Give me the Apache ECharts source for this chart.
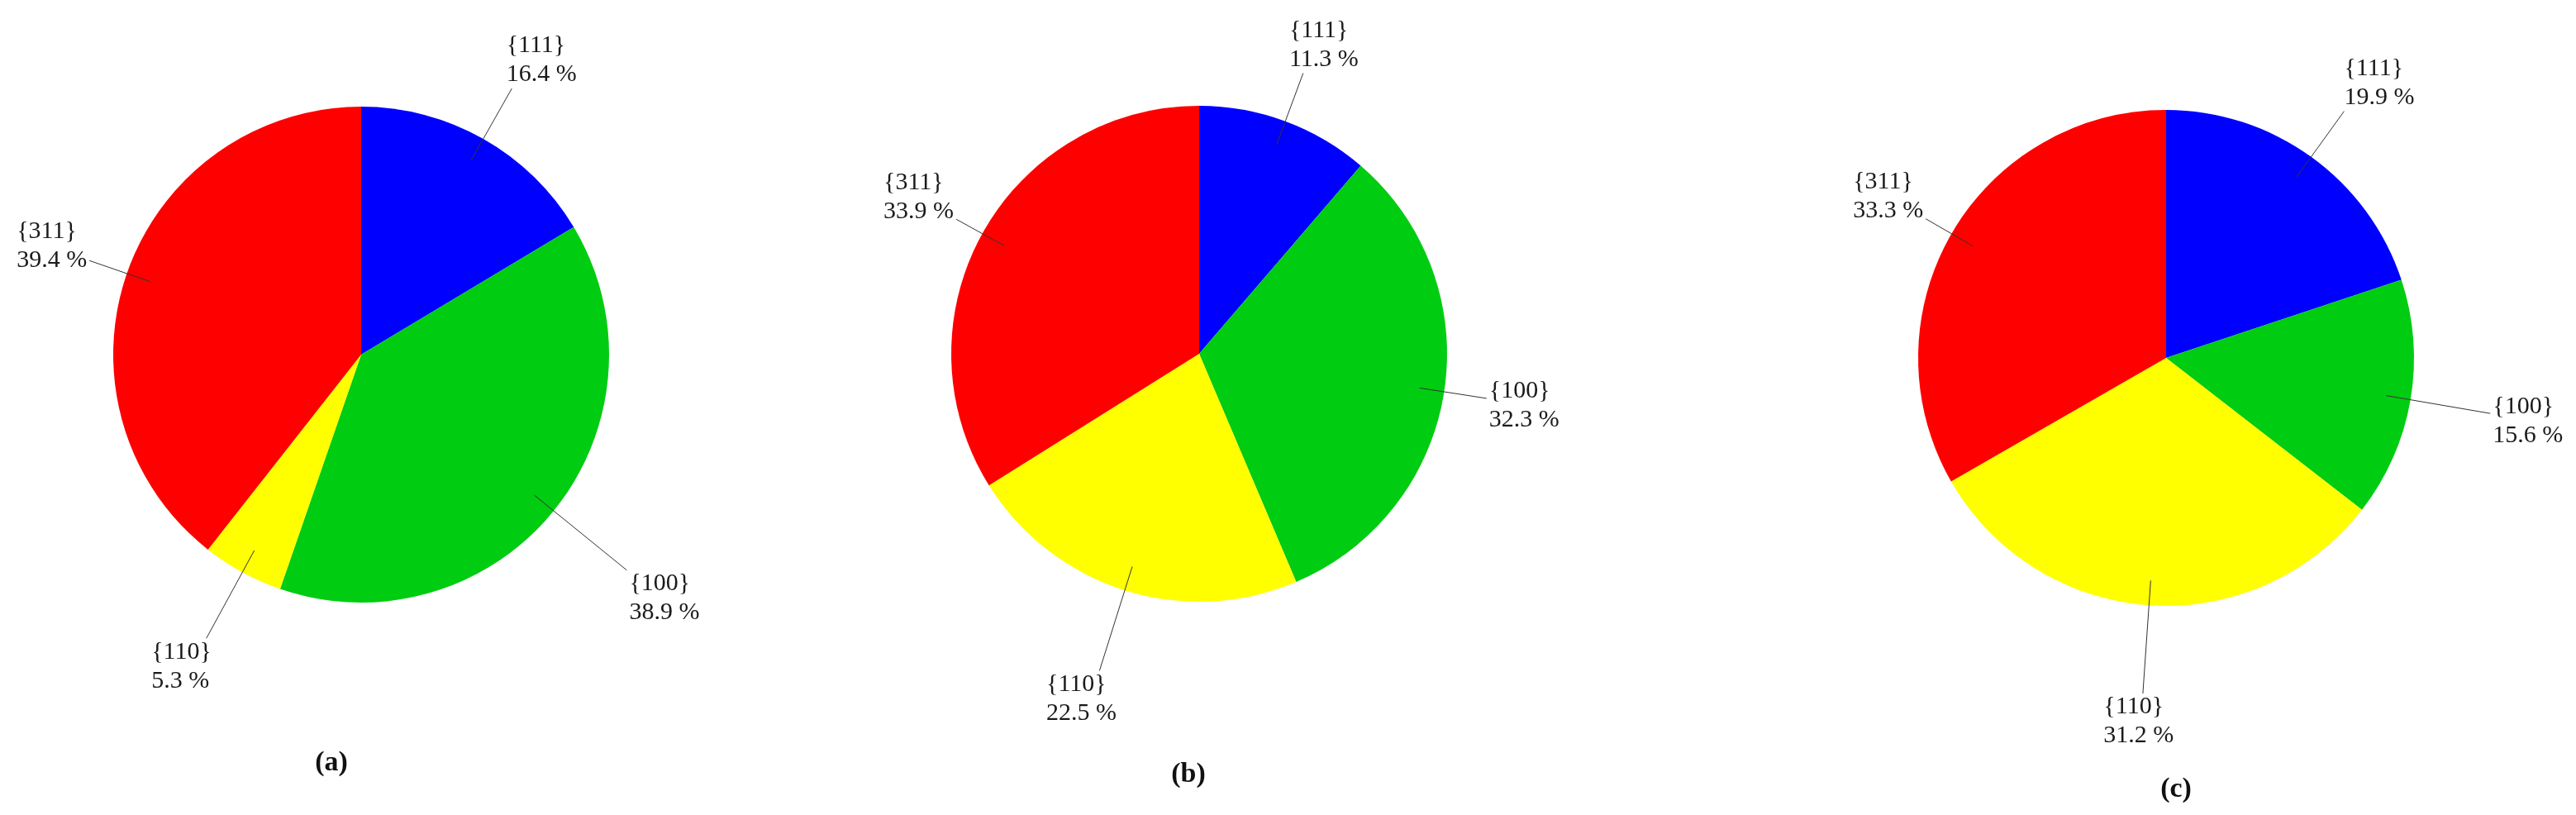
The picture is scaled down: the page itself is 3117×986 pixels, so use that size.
<!DOCTYPE html>
<html>
<head>
<meta charset="utf-8">
<script src="https://cdn.jsdelivr.net/npm/echarts@6/dist/echarts.min.js"></script>
<style>
html, body { margin: 0; padding: 0; background: #fff; }
#chart { width: 3117px; height: 986px; }
</style>
</head>
<body>
<div id="chart"></div>
<script>
// facets, clockwise from 12 o'clock
const facets = ['{111}', '{100}', '{110}', '{311}'];
const valuesA = [16.4, 38.9, 5.3, 39.4];
const valuesB = [11.3, 32.3, 22.5, 33.9];
const valuesC = [19.9, 15.6, 31.2, 33.3];
const panelTitles = ['(a)', '(b)', '(c)'];

const colors = ['#0000ff', '#00cc11', '#ffff00', '#ff0000'];
const serif = '"Liberation Serif", "Times New Roman", serif';

// panel layout: pie centre, caption position, leader line lengths
const panels = [
  { values: valuesA, center: [437, 429], caption: [401, 923], leader: [100, 144, 121, 78] },
  { values: valuesB, center: [1451, 428], caption: [1438, 937], leader: [92, 82, 132, 66] },
  { values: valuesC, center: [2621, 433], caption: [2633, 955], leader: [98, 128, 137, 66] }
];
const R = 300;
const R_LABEL = 270;

const clamp = (v) => Math.max(-1, Math.min(1, v));

// put the text block past the end of the leader line, on the outward side
function placeLabel(center) {
  return (params) => {
    const pts = params.labelLinePoints;
    if (!pts) return;
    const p0 = pts[0], p1 = pts[1];
    const dx = p1[0] - center[0], dy = p1[1] - center[1];
    const d = Math.hypot(dx, dy) || 1;
    const w = params.labelRect.width, h = params.labelRect.height;
    const cx = p1[0] + clamp(1.6 * dx / d) * (w / 2 + 3);
    const cy = p1[1] + clamp(1.6 * dy / d) * 34;
    return {
      x: cx - w / 2,
      y: cy - h / 2,
      align: 'left',
      verticalAlign: 'top',
      labelLinePoints: [p0, p1]
    };
  };
}

const series = [];
panels.forEach((p) => {
  series.push({
    type: 'pie',
    z: 2,
    center: p.center,
    radius: [0, R],
    silent: true,
    animation: false,
    emphasis: { disabled: true },
    label: { show: false },
    labelLine: { show: false },
    itemStyle: { borderWidth: 0 },
    data: facets.map((name, i) => ({ name, value: p.values[i], itemStyle: { color: colors[i] } }))
  });
  // invisible inner pie that only carries the labels and leader lines
  series.push({
    type: 'pie',
    z: 5,
    center: p.center,
    radius: [0, R_LABEL],
    silent: true,
    animation: false,
    avoidLabelOverlap: false,
    emphasis: { disabled: true },
    itemStyle: { color: 'rgba(0,0,0,0)', borderWidth: 0 },
    label: {
      show: true,
      position: 'outside',
      formatter: (prm) => prm.name + '\n' + prm.value + ' %',
      color: '#1a1a1a',
      fontFamily: serif,
      fontSize: 30,
      lineHeight: 35
    },
    labelLine: {
      show: true,
      length2: 1,
      smooth: false,
      lineStyle: { color: '#333', width: 1 }
    },
    labelLayout: placeLabel(p.center),
    data: facets.map((name, i) => ({
      name,
      value: p.values[i],
      labelLine: { length: p.leader[i] }
    }))
  });
});

const chart = echarts.init(document.getElementById('chart'));
chart.setOption({
  backgroundColor: '#fff',
  animation: false,
  graphic: panels.map((p, i) => ({
    type: 'text',
    x: p.caption[0],
    y: p.caption[1],
    style: {
      text: panelTitles[i],
      fill: '#111',
      font: 'bold 34px ' + serif,
      align: 'center',
      verticalAlign: 'middle'
    }
  })),
  series
});
</script>
</body>
</html>
